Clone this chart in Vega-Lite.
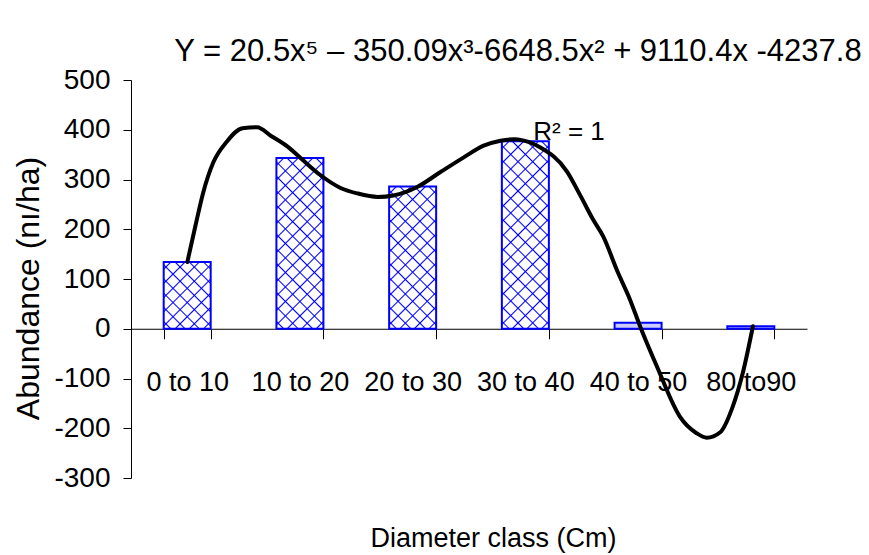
{
  "$schema": "https://vega.github.io/schema/vega-lite/v6.json",
  "width": 676,
  "height": 398,
  "autosize": {"type": "none"},
  "padding": {"left": 131, "top": 80, "right": 62, "bottom": 77},
  "background": "white",
  "title": {
    "text": "Y = 20.5x⁵ – 350.09x³-6648.5x² + 9110.4x -4237.8",
    "font": "Liberation Sans",
    "fontSize": 31,
    "fontWeight": "normal",
    "color": "black",
    "anchor": "middle",
    "dx": 49,
    "offset": -2
  },
  "config": {
    "view": {"stroke": null},
    "axis": {
      "domainColor": "black",
      "tickColor": "black",
      "labelColor": "black",
      "titleColor": "black",
      "grid": false,
      "domainWidth": 1,
      "tickWidth": 1
    }
  },
  "layer": [
    {
      "data": {
        "values": [
          {"class": "0 to 10", "abundance": 134},
          {"class": "10 to 20", "abundance": 343},
          {"class": "20 to 30", "abundance": 286},
          {"class": "30 to 40", "abundance": 377},
          {"class": "40 to 50", "abundance": 12},
          {"class": "80 to90", "abundance": 5}
        ]
      },
      "encoding": {
        "x": {
          "field": "class",
          "type": "nominal",
          "sort": null,
          "scale": {"paddingInner": 0.583, "paddingOuter": 0.29},
          "axis": {
            "orient": "bottom",
            "offset": -149.25,
            "labelAngle": 0,
            "labelFont": "Liberation Sans",
            "labelFontSize": 27,
            "labelPadding": 31,
            "tickSize": 10,
            "tickBand": "extent",
            "title": "Diameter class (Cm)",
            "titleFont": "Liberation Sans",
            "titleFontSize": 27,
            "titleFontWeight": "normal",
            "titleX": 362,
            "titleY": 218,
            "titleBaseline": "alphabetic",
            "titleAlign": "center"
          }
        },
        "y": {
          "field": "abundance",
          "type": "quantitative",
          "scale": {"domain": [-300, 500], "nice": false},
          "axis": {
            "values": [-300, -200, -100, 0, 100, 200, 300, 400, 500],
            "labelExpr": "'' + datum.value",
            "labelFont": "Liberation Sans",
            "labelFontSize": 28,
            "labelPadding": 13,
            "labelOverlap": false,
            "labelFlush": false,
            "tickSize": 8,
            "title": "Abundance (nı/ha)",
            "titleFont": "Liberation Sans",
            "titleFontSize": 32,
            "titleFontWeight": "normal",
            "titleAngle": 270,
            "titleX": -93,
            "titleY": 208,
            "titleBaseline": "alphabetic",
            "titleAlign": "center"
          }
        }
      },
      "layer": [
        {
          "mark": {"type": "bar", "strokeWidth": 0},
          "encoding": {
            "fill": {
              "condition": [
                {"test": "datum.class === '0 to 10'", "value": {"gradient": "linear", "x1": 0, "y1": 0, "x2": 0.8026, "y2": 1.139, "stops": [
                  {"offset": 0.0493, "color": "rgba(0,0,255,0)"}, {"offset": 0.0625, "color": "#0000ff"}, {"offset": 0.0757, "color": "rgba(0,0,255,0)"},
                  {"offset": 0.1743, "color": "rgba(0,0,255,0)"}, {"offset": 0.1875, "color": "#0000ff"}, {"offset": 0.2007, "color": "rgba(0,0,255,0)"},
                  {"offset": 0.2993, "color": "rgba(0,0,255,0)"}, {"offset": 0.3125, "color": "#0000ff"}, {"offset": 0.3257, "color": "rgba(0,0,255,0)"},
                  {"offset": 0.4243, "color": "rgba(0,0,255,0)"}, {"offset": 0.4375, "color": "#0000ff"}, {"offset": 0.4507, "color": "rgba(0,0,255,0)"},
                  {"offset": 0.5493, "color": "rgba(0,0,255,0)"}, {"offset": 0.5625, "color": "#0000ff"}, {"offset": 0.5757, "color": "rgba(0,0,255,0)"},
                  {"offset": 0.6743, "color": "rgba(0,0,255,0)"}, {"offset": 0.6875, "color": "#0000ff"}, {"offset": 0.7007, "color": "rgba(0,0,255,0)"},
                  {"offset": 0.7993, "color": "rgba(0,0,255,0)"}, {"offset": 0.8125, "color": "#0000ff"}, {"offset": 0.8257, "color": "rgba(0,0,255,0)"},
                  {"offset": 0.9243, "color": "rgba(0,0,255,0)"}, {"offset": 0.9375, "color": "#0000ff"}, {"offset": 0.9507, "color": "rgba(0,0,255,0)"}
                ]}},
                {"test": "datum.class === '10 to 20'", "value": {"gradient": "linear", "x1": 0, "y1": 0, "x2": 0.3266, "y2": 1.1855, "stops": [
                  {"offset": 0.0264, "color": "rgba(0,0,255,0)"}, {"offset": 0.0333, "color": "#0000ff"}, {"offset": 0.0402, "color": "rgba(0,0,255,0)"},
                  {"offset": 0.0931, "color": "rgba(0,0,255,0)"}, {"offset": 0.1, "color": "#0000ff"}, {"offset": 0.1069, "color": "rgba(0,0,255,0)"},
                  {"offset": 0.1598, "color": "rgba(0,0,255,0)"}, {"offset": 0.1667, "color": "#0000ff"}, {"offset": 0.1736, "color": "rgba(0,0,255,0)"},
                  {"offset": 0.2264, "color": "rgba(0,0,255,0)"}, {"offset": 0.2333, "color": "#0000ff"}, {"offset": 0.2402, "color": "rgba(0,0,255,0)"},
                  {"offset": 0.2931, "color": "rgba(0,0,255,0)"}, {"offset": 0.3, "color": "#0000ff"}, {"offset": 0.3069, "color": "rgba(0,0,255,0)"},
                  {"offset": 0.3598, "color": "rgba(0,0,255,0)"}, {"offset": 0.3667, "color": "#0000ff"}, {"offset": 0.3736, "color": "rgba(0,0,255,0)"},
                  {"offset": 0.4264, "color": "rgba(0,0,255,0)"}, {"offset": 0.4333, "color": "#0000ff"}, {"offset": 0.4402, "color": "rgba(0,0,255,0)"},
                  {"offset": 0.4931, "color": "rgba(0,0,255,0)"}, {"offset": 0.5, "color": "#0000ff"}, {"offset": 0.5069, "color": "rgba(0,0,255,0)"},
                  {"offset": 0.5598, "color": "rgba(0,0,255,0)"}, {"offset": 0.5667, "color": "#0000ff"}, {"offset": 0.5736, "color": "rgba(0,0,255,0)"},
                  {"offset": 0.6264, "color": "rgba(0,0,255,0)"}, {"offset": 0.6333, "color": "#0000ff"}, {"offset": 0.6402, "color": "rgba(0,0,255,0)"},
                  {"offset": 0.6931, "color": "rgba(0,0,255,0)"}, {"offset": 0.7, "color": "#0000ff"}, {"offset": 0.7069, "color": "rgba(0,0,255,0)"},
                  {"offset": 0.7598, "color": "rgba(0,0,255,0)"}, {"offset": 0.7667, "color": "#0000ff"}, {"offset": 0.7736, "color": "rgba(0,0,255,0)"},
                  {"offset": 0.8264, "color": "rgba(0,0,255,0)"}, {"offset": 0.8333, "color": "#0000ff"}, {"offset": 0.8402, "color": "rgba(0,0,255,0)"},
                  {"offset": 0.8931, "color": "rgba(0,0,255,0)"}, {"offset": 0.9, "color": "#0000ff"}, {"offset": 0.9069, "color": "rgba(0,0,255,0)"},
                  {"offset": 0.9598, "color": "rgba(0,0,255,0)"}, {"offset": 0.9667, "color": "#0000ff"}, {"offset": 0.9736, "color": "rgba(0,0,255,0)"}
                ]}},
                {"test": "datum.class === '20 to 30'", "value": {"gradient": "linear", "x1": 0, "y1": 0, "x2": 0.3961, "y2": 1.1994, "stops": [
                  {"offset": 0.0306, "color": "rgba(0,0,255,0)"}, {"offset": 0.0385, "color": "#0000ff"}, {"offset": 0.0464, "color": "rgba(0,0,255,0)"},
                  {"offset": 0.1075, "color": "rgba(0,0,255,0)"}, {"offset": 0.1154, "color": "#0000ff"}, {"offset": 0.1233, "color": "rgba(0,0,255,0)"},
                  {"offset": 0.1844, "color": "rgba(0,0,255,0)"}, {"offset": 0.1923, "color": "#0000ff"}, {"offset": 0.2002, "color": "rgba(0,0,255,0)"},
                  {"offset": 0.2613, "color": "rgba(0,0,255,0)"}, {"offset": 0.2692, "color": "#0000ff"}, {"offset": 0.2771, "color": "rgba(0,0,255,0)"},
                  {"offset": 0.3383, "color": "rgba(0,0,255,0)"}, {"offset": 0.3462, "color": "#0000ff"}, {"offset": 0.3541, "color": "rgba(0,0,255,0)"},
                  {"offset": 0.4152, "color": "rgba(0,0,255,0)"}, {"offset": 0.4231, "color": "#0000ff"}, {"offset": 0.431, "color": "rgba(0,0,255,0)"},
                  {"offset": 0.4921, "color": "rgba(0,0,255,0)"}, {"offset": 0.5, "color": "#0000ff"}, {"offset": 0.5079, "color": "rgba(0,0,255,0)"},
                  {"offset": 0.569, "color": "rgba(0,0,255,0)"}, {"offset": 0.5769, "color": "#0000ff"}, {"offset": 0.5848, "color": "rgba(0,0,255,0)"},
                  {"offset": 0.6459, "color": "rgba(0,0,255,0)"}, {"offset": 0.6538, "color": "#0000ff"}, {"offset": 0.6617, "color": "rgba(0,0,255,0)"},
                  {"offset": 0.7229, "color": "rgba(0,0,255,0)"}, {"offset": 0.7308, "color": "#0000ff"}, {"offset": 0.7387, "color": "rgba(0,0,255,0)"},
                  {"offset": 0.7998, "color": "rgba(0,0,255,0)"}, {"offset": 0.8077, "color": "#0000ff"}, {"offset": 0.8156, "color": "rgba(0,0,255,0)"},
                  {"offset": 0.8767, "color": "rgba(0,0,255,0)"}, {"offset": 0.8846, "color": "#0000ff"}, {"offset": 0.8925, "color": "rgba(0,0,255,0)"},
                  {"offset": 0.9536, "color": "rgba(0,0,255,0)"}, {"offset": 0.9615, "color": "#0000ff"}, {"offset": 0.9694, "color": "rgba(0,0,255,0)"}
                ]}},
                {"test": "datum.class === '30 to 40'", "value": {"gradient": "linear", "x1": 0, "y1": 0, "x2": 0.2948, "y2": 1.1766, "stops": [
                  {"offset": 0.02485, "color": "rgba(0,0,255,0)"}, {"offset": 0.03125, "color": "#0000ff"}, {"offset": 0.03765, "color": "rgba(0,0,255,0)"},
                  {"offset": 0.08735, "color": "rgba(0,0,255,0)"}, {"offset": 0.09375, "color": "#0000ff"}, {"offset": 0.10015, "color": "rgba(0,0,255,0)"},
                  {"offset": 0.14985, "color": "rgba(0,0,255,0)"}, {"offset": 0.15625, "color": "#0000ff"}, {"offset": 0.16265, "color": "rgba(0,0,255,0)"},
                  {"offset": 0.21235, "color": "rgba(0,0,255,0)"}, {"offset": 0.21875, "color": "#0000ff"}, {"offset": 0.22515, "color": "rgba(0,0,255,0)"},
                  {"offset": 0.27485, "color": "rgba(0,0,255,0)"}, {"offset": 0.28125, "color": "#0000ff"}, {"offset": 0.28765, "color": "rgba(0,0,255,0)"},
                  {"offset": 0.33735, "color": "rgba(0,0,255,0)"}, {"offset": 0.34375, "color": "#0000ff"}, {"offset": 0.35015, "color": "rgba(0,0,255,0)"},
                  {"offset": 0.39985, "color": "rgba(0,0,255,0)"}, {"offset": 0.40625, "color": "#0000ff"}, {"offset": 0.41265, "color": "rgba(0,0,255,0)"},
                  {"offset": 0.46235, "color": "rgba(0,0,255,0)"}, {"offset": 0.46875, "color": "#0000ff"}, {"offset": 0.47515, "color": "rgba(0,0,255,0)"},
                  {"offset": 0.52485, "color": "rgba(0,0,255,0)"}, {"offset": 0.53125, "color": "#0000ff"}, {"offset": 0.53765, "color": "rgba(0,0,255,0)"},
                  {"offset": 0.58735, "color": "rgba(0,0,255,0)"}, {"offset": 0.59375, "color": "#0000ff"}, {"offset": 0.60015, "color": "rgba(0,0,255,0)"},
                  {"offset": 0.64985, "color": "rgba(0,0,255,0)"}, {"offset": 0.65625, "color": "#0000ff"}, {"offset": 0.66265, "color": "rgba(0,0,255,0)"},
                  {"offset": 0.71235, "color": "rgba(0,0,255,0)"}, {"offset": 0.71875, "color": "#0000ff"}, {"offset": 0.72515, "color": "rgba(0,0,255,0)"},
                  {"offset": 0.77485, "color": "rgba(0,0,255,0)"}, {"offset": 0.78125, "color": "#0000ff"}, {"offset": 0.78765, "color": "rgba(0,0,255,0)"},
                  {"offset": 0.83735, "color": "rgba(0,0,255,0)"}, {"offset": 0.84375, "color": "#0000ff"}, {"offset": 0.85015, "color": "rgba(0,0,255,0)"},
                  {"offset": 0.89985, "color": "rgba(0,0,255,0)"}, {"offset": 0.90625, "color": "#0000ff"}, {"offset": 0.91265, "color": "rgba(0,0,255,0)"},
                  {"offset": 0.96235, "color": "rgba(0,0,255,0)"}, {"offset": 0.96875, "color": "#0000ff"}, {"offset": 0.97515, "color": "rgba(0,0,255,0)"}
                ]}}
              ],
              "value": "#ccccff"
            }
          }
        },
        {
          "mark": {"type": "bar", "stroke": "#0000ff", "strokeWidth": 2},
          "encoding": {
            "fill": {
              "condition": [
                {"test": "datum.class === '0 to 10'", "value": {"gradient": "linear", "x1": 0, "y1": 1, "x2": 0.8026, "y2": -0.139, "stops": [
                  {"offset": 0.0493, "color": "rgba(0,0,255,0)"}, {"offset": 0.0625, "color": "#0000ff"}, {"offset": 0.0757, "color": "rgba(0,0,255,0)"},
                  {"offset": 0.1743, "color": "rgba(0,0,255,0)"}, {"offset": 0.1875, "color": "#0000ff"}, {"offset": 0.2007, "color": "rgba(0,0,255,0)"},
                  {"offset": 0.2993, "color": "rgba(0,0,255,0)"}, {"offset": 0.3125, "color": "#0000ff"}, {"offset": 0.3257, "color": "rgba(0,0,255,0)"},
                  {"offset": 0.4243, "color": "rgba(0,0,255,0)"}, {"offset": 0.4375, "color": "#0000ff"}, {"offset": 0.4507, "color": "rgba(0,0,255,0)"},
                  {"offset": 0.5493, "color": "rgba(0,0,255,0)"}, {"offset": 0.5625, "color": "#0000ff"}, {"offset": 0.5757, "color": "rgba(0,0,255,0)"},
                  {"offset": 0.6743, "color": "rgba(0,0,255,0)"}, {"offset": 0.6875, "color": "#0000ff"}, {"offset": 0.7007, "color": "rgba(0,0,255,0)"},
                  {"offset": 0.7993, "color": "rgba(0,0,255,0)"}, {"offset": 0.8125, "color": "#0000ff"}, {"offset": 0.8257, "color": "rgba(0,0,255,0)"},
                  {"offset": 0.9243, "color": "rgba(0,0,255,0)"}, {"offset": 0.9375, "color": "#0000ff"}, {"offset": 0.9507, "color": "rgba(0,0,255,0)"}
                ]}},
                {"test": "datum.class === '10 to 20'", "value": {"gradient": "linear", "x1": 0, "y1": 1, "x2": 0.3266, "y2": -0.1855, "stops": [
                  {"offset": 0.0264, "color": "rgba(0,0,255,0)"}, {"offset": 0.0333, "color": "#0000ff"}, {"offset": 0.0402, "color": "rgba(0,0,255,0)"},
                  {"offset": 0.0931, "color": "rgba(0,0,255,0)"}, {"offset": 0.1, "color": "#0000ff"}, {"offset": 0.1069, "color": "rgba(0,0,255,0)"},
                  {"offset": 0.1598, "color": "rgba(0,0,255,0)"}, {"offset": 0.1667, "color": "#0000ff"}, {"offset": 0.1736, "color": "rgba(0,0,255,0)"},
                  {"offset": 0.2264, "color": "rgba(0,0,255,0)"}, {"offset": 0.2333, "color": "#0000ff"}, {"offset": 0.2402, "color": "rgba(0,0,255,0)"},
                  {"offset": 0.2931, "color": "rgba(0,0,255,0)"}, {"offset": 0.3, "color": "#0000ff"}, {"offset": 0.3069, "color": "rgba(0,0,255,0)"},
                  {"offset": 0.3598, "color": "rgba(0,0,255,0)"}, {"offset": 0.3667, "color": "#0000ff"}, {"offset": 0.3736, "color": "rgba(0,0,255,0)"},
                  {"offset": 0.4264, "color": "rgba(0,0,255,0)"}, {"offset": 0.4333, "color": "#0000ff"}, {"offset": 0.4402, "color": "rgba(0,0,255,0)"},
                  {"offset": 0.4931, "color": "rgba(0,0,255,0)"}, {"offset": 0.5, "color": "#0000ff"}, {"offset": 0.5069, "color": "rgba(0,0,255,0)"},
                  {"offset": 0.5598, "color": "rgba(0,0,255,0)"}, {"offset": 0.5667, "color": "#0000ff"}, {"offset": 0.5736, "color": "rgba(0,0,255,0)"},
                  {"offset": 0.6264, "color": "rgba(0,0,255,0)"}, {"offset": 0.6333, "color": "#0000ff"}, {"offset": 0.6402, "color": "rgba(0,0,255,0)"},
                  {"offset": 0.6931, "color": "rgba(0,0,255,0)"}, {"offset": 0.7, "color": "#0000ff"}, {"offset": 0.7069, "color": "rgba(0,0,255,0)"},
                  {"offset": 0.7598, "color": "rgba(0,0,255,0)"}, {"offset": 0.7667, "color": "#0000ff"}, {"offset": 0.7736, "color": "rgba(0,0,255,0)"},
                  {"offset": 0.8264, "color": "rgba(0,0,255,0)"}, {"offset": 0.8333, "color": "#0000ff"}, {"offset": 0.8402, "color": "rgba(0,0,255,0)"},
                  {"offset": 0.8931, "color": "rgba(0,0,255,0)"}, {"offset": 0.9, "color": "#0000ff"}, {"offset": 0.9069, "color": "rgba(0,0,255,0)"},
                  {"offset": 0.9598, "color": "rgba(0,0,255,0)"}, {"offset": 0.9667, "color": "#0000ff"}, {"offset": 0.9736, "color": "rgba(0,0,255,0)"}
                ]}},
                {"test": "datum.class === '20 to 30'", "value": {"gradient": "linear", "x1": 0, "y1": 1, "x2": 0.3961, "y2": -0.1994, "stops": [
                  {"offset": 0.0306, "color": "rgba(0,0,255,0)"}, {"offset": 0.0385, "color": "#0000ff"}, {"offset": 0.0464, "color": "rgba(0,0,255,0)"},
                  {"offset": 0.1075, "color": "rgba(0,0,255,0)"}, {"offset": 0.1154, "color": "#0000ff"}, {"offset": 0.1233, "color": "rgba(0,0,255,0)"},
                  {"offset": 0.1844, "color": "rgba(0,0,255,0)"}, {"offset": 0.1923, "color": "#0000ff"}, {"offset": 0.2002, "color": "rgba(0,0,255,0)"},
                  {"offset": 0.2613, "color": "rgba(0,0,255,0)"}, {"offset": 0.2692, "color": "#0000ff"}, {"offset": 0.2771, "color": "rgba(0,0,255,0)"},
                  {"offset": 0.3383, "color": "rgba(0,0,255,0)"}, {"offset": 0.3462, "color": "#0000ff"}, {"offset": 0.3541, "color": "rgba(0,0,255,0)"},
                  {"offset": 0.4152, "color": "rgba(0,0,255,0)"}, {"offset": 0.4231, "color": "#0000ff"}, {"offset": 0.431, "color": "rgba(0,0,255,0)"},
                  {"offset": 0.4921, "color": "rgba(0,0,255,0)"}, {"offset": 0.5, "color": "#0000ff"}, {"offset": 0.5079, "color": "rgba(0,0,255,0)"},
                  {"offset": 0.569, "color": "rgba(0,0,255,0)"}, {"offset": 0.5769, "color": "#0000ff"}, {"offset": 0.5848, "color": "rgba(0,0,255,0)"},
                  {"offset": 0.6459, "color": "rgba(0,0,255,0)"}, {"offset": 0.6538, "color": "#0000ff"}, {"offset": 0.6617, "color": "rgba(0,0,255,0)"},
                  {"offset": 0.7229, "color": "rgba(0,0,255,0)"}, {"offset": 0.7308, "color": "#0000ff"}, {"offset": 0.7387, "color": "rgba(0,0,255,0)"},
                  {"offset": 0.7998, "color": "rgba(0,0,255,0)"}, {"offset": 0.8077, "color": "#0000ff"}, {"offset": 0.8156, "color": "rgba(0,0,255,0)"},
                  {"offset": 0.8767, "color": "rgba(0,0,255,0)"}, {"offset": 0.8846, "color": "#0000ff"}, {"offset": 0.8925, "color": "rgba(0,0,255,0)"},
                  {"offset": 0.9536, "color": "rgba(0,0,255,0)"}, {"offset": 0.9615, "color": "#0000ff"}, {"offset": 0.9694, "color": "rgba(0,0,255,0)"}
                ]}},
                {"test": "datum.class === '30 to 40'", "value": {"gradient": "linear", "x1": 0, "y1": 1, "x2": 0.2948, "y2": -0.1766, "stops": [
                  {"offset": 0.02485, "color": "rgba(0,0,255,0)"}, {"offset": 0.03125, "color": "#0000ff"}, {"offset": 0.03765, "color": "rgba(0,0,255,0)"},
                  {"offset": 0.08735, "color": "rgba(0,0,255,0)"}, {"offset": 0.09375, "color": "#0000ff"}, {"offset": 0.10015, "color": "rgba(0,0,255,0)"},
                  {"offset": 0.14985, "color": "rgba(0,0,255,0)"}, {"offset": 0.15625, "color": "#0000ff"}, {"offset": 0.16265, "color": "rgba(0,0,255,0)"},
                  {"offset": 0.21235, "color": "rgba(0,0,255,0)"}, {"offset": 0.21875, "color": "#0000ff"}, {"offset": 0.22515, "color": "rgba(0,0,255,0)"},
                  {"offset": 0.27485, "color": "rgba(0,0,255,0)"}, {"offset": 0.28125, "color": "#0000ff"}, {"offset": 0.28765, "color": "rgba(0,0,255,0)"},
                  {"offset": 0.33735, "color": "rgba(0,0,255,0)"}, {"offset": 0.34375, "color": "#0000ff"}, {"offset": 0.35015, "color": "rgba(0,0,255,0)"},
                  {"offset": 0.39985, "color": "rgba(0,0,255,0)"}, {"offset": 0.40625, "color": "#0000ff"}, {"offset": 0.41265, "color": "rgba(0,0,255,0)"},
                  {"offset": 0.46235, "color": "rgba(0,0,255,0)"}, {"offset": 0.46875, "color": "#0000ff"}, {"offset": 0.47515, "color": "rgba(0,0,255,0)"},
                  {"offset": 0.52485, "color": "rgba(0,0,255,0)"}, {"offset": 0.53125, "color": "#0000ff"}, {"offset": 0.53765, "color": "rgba(0,0,255,0)"},
                  {"offset": 0.58735, "color": "rgba(0,0,255,0)"}, {"offset": 0.59375, "color": "#0000ff"}, {"offset": 0.60015, "color": "rgba(0,0,255,0)"},
                  {"offset": 0.64985, "color": "rgba(0,0,255,0)"}, {"offset": 0.65625, "color": "#0000ff"}, {"offset": 0.66265, "color": "rgba(0,0,255,0)"},
                  {"offset": 0.71235, "color": "rgba(0,0,255,0)"}, {"offset": 0.71875, "color": "#0000ff"}, {"offset": 0.72515, "color": "rgba(0,0,255,0)"},
                  {"offset": 0.77485, "color": "rgba(0,0,255,0)"}, {"offset": 0.78125, "color": "#0000ff"}, {"offset": 0.78765, "color": "rgba(0,0,255,0)"},
                  {"offset": 0.83735, "color": "rgba(0,0,255,0)"}, {"offset": 0.84375, "color": "#0000ff"}, {"offset": 0.85015, "color": "rgba(0,0,255,0)"},
                  {"offset": 0.89985, "color": "rgba(0,0,255,0)"}, {"offset": 0.90625, "color": "#0000ff"}, {"offset": 0.91265, "color": "rgba(0,0,255,0)"},
                  {"offset": 0.96235, "color": "rgba(0,0,255,0)"}, {"offset": 0.96875, "color": "#0000ff"}, {"offset": 0.97515, "color": "rgba(0,0,255,0)"}
                ]}}
              ],
              "value": "transparent"
            }
          }
        }
      ]
    },
    {
      "layer": [
        {
          "data": {
            "values": [
              {"u": 1.0, "v": 134}, {"u": 1.07, "v": 205}, {"u": 1.14, "v": 273},
              {"u": 1.23, "v": 334}, {"u": 1.35, "v": 376}, {"u": 1.49, "v": 403},
              {"u": 1.62, "v": 405}, {"u": 1.74, "v": 388}, {"u": 1.89, "v": 366},
              {"u": 2.03, "v": 338}, {"u": 2.18, "v": 309}, {"u": 2.36, "v": 283},
              {"u": 2.51, "v": 272}, {"u": 2.69, "v": 265}, {"u": 2.83, "v": 268},
              {"u": 3.04, "v": 285}, {"u": 3.24, "v": 314}, {"u": 3.45, "v": 344},
              {"u": 3.63, "v": 368}, {"u": 3.78, "v": 378}, {"u": 3.91, "v": 381},
              {"u": 4.02, "v": 376}, {"u": 4.13, "v": 365}, {"u": 4.37, "v": 316},
              {"u": 4.49, "v": 267}, {"u": 4.6, "v": 220}, {"u": 4.69, "v": 186},
              {"u": 4.82, "v": 114}, {"u": 4.93, "v": 58}, {"u": 5.02, "v": 4},
              {"u": 5.17, "v": -77}, {"u": 5.37, "v": -176}, {"u": 5.52, "v": -210},
              {"u": 5.61, "v": -219}, {"u": 5.73, "v": -208}, {"u": 5.84, "v": -157},
              {"u": 5.93, "v": -89}, {"u": 6.02, "v": 5}
            ]
          },
          "mark": {"type": "line", "color": "black", "strokeWidth": 4, "interpolate": "monotone", "strokeCap": "round", "strokeJoin": "round"},
          "encoding": {
            "x": {"field": "u", "type": "quantitative", "scale": {"domain": [0.5, 6.5], "nice": false, "zero": false}, "axis": null},
            "y": {"field": "v", "type": "quantitative"}
          }
        },
        {
          "data": {"values": [{"label": "R² = 1"}]},
          "mark": {"type": "text", "font": "Liberation Sans", "fontSize": 26, "align": "left", "baseline": "alphabetic", "color": "black"},
          "encoding": {
            "x": {"datum": 4.07, "type": "quantitative"},
            "y": {"datum": 380, "type": "quantitative"},
            "text": {"field": "label"}
          }
        }
      ]
    }
  ],
  "resolve": {"scale": {"x": "independent"}}
}
